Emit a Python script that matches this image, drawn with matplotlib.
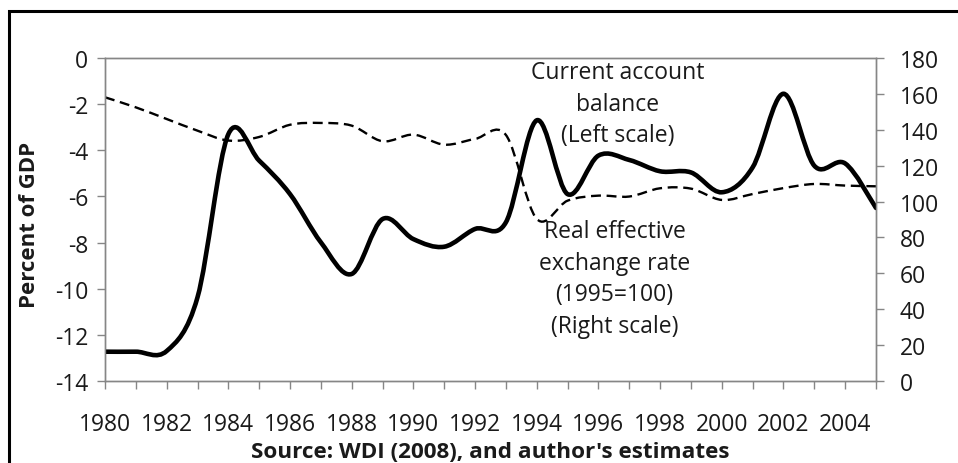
import numpy as np
import matplotlib.pyplot as plt
from matplotlib.path import Path
from matplotlib.patches import PathPatch, Rectangle

plt.rcParams['font.family'] = ['Open Sans', 'DejaVu Sans']
plt.rcParams['axes.unicode_minus'] = False

# datos
years = list(range(1980, 2006))
current_account = [-12.73, -12.73, -12.7, -10.37, -3.3, -4.45, -5.9, -7.99, -9.36,
                   -6.98, -7.85, -8.18, -7.41, -7.12, -2.7, -5.9, -4.23, -4.42,
                   -4.91, -4.96, -5.82, -4.74, -1.55, -4.67, -4.57, -6.5]
reer = [158.1, 152.5, 146.0, 139.5, 134.0, 136.0, 142.8, 143.8, 142.3, 133.6,
        137.3, 131.7, 134.9, 137.1, 90.3, 100.5, 103.3, 102.8, 107.4, 107.2,
        100.9, 104.2, 107.5, 109.8, 108.9, 108.5]
left_ticks = [0, -2, -4, -6, -8, -10, -12, -14]
right_ticks = [0, 20, 40, 60, 80, 100, 120, 140, 160, 180]

GRAY = '#868686'
TXT = '#1a1a1a'


def curva_suave(x, y):
    # curva tipo Excel (Catmull-Rom con beziers cubicos)
    x = np.asarray(x, float)
    y = np.asarray(y, float)
    n = len(x)
    verts = [(x[0], y[0])]
    codes = [Path.MOVETO]
    for i in range(n - 1):
        a = i - 1 if i > 0 else i
        d = i + 2 if i + 2 < n else i + 1
        c1 = (x[i] + (x[i + 1] - x[a]) / 6, y[i] + (y[i + 1] - y[a]) / 6)
        c2 = (x[i + 1] - (x[d] - x[i]) / 6, y[i + 1] - (y[d] - y[i]) / 6)
        verts += [c1, c2, (x[i + 1], y[i + 1])]
        codes += [Path.CURVE4] * 3
    return Path(verts, codes)


fig = plt.figure(figsize=(9.58, 4.64), dpi=100)
ax = fig.add_axes([105 / 958, 1 - 382 / 464, 771 / 958, 323 / 464])
ax2 = ax.twinx()
ax.set_zorder(ax2.get_zorder() + 1)
ax.patch.set_visible(False)

ax2.add_patch(PathPatch(curva_suave(years, reer), fill=False, ec='black',
                        lw=1.7, linestyle=(0, (4.2, 2.4))))
ax.add_patch(PathPatch(curva_suave(years, current_account), fill=False,
                       ec='black', lw=3.3, joinstyle='round', capstyle='round'))

ax.set_xlim(1980, 2005)
ax.set_ylim(-14, 0)
ax2.set_ylim(0, 180)
ax.set_yticks(left_ticks)
ax2.set_yticks(right_ticks)
ax.set_xticks(years)
ax.set_xticklabels([str(y) if y % 2 == 0 else '' for y in years])

for a in (ax, ax2):
    for s in a.spines.values():
        s.set_color(GRAY)
        s.set_linewidth(1.0)
ax.tick_params(axis='y', direction='out', length=6, width=1, color=GRAY,
               labelsize=16.5, labelcolor=TXT, pad=6)
ax2.tick_params(axis='y', direction='out', length=6, width=1, color=GRAY,
                labelsize=16.5, labelcolor=TXT, pad=11)
ax.tick_params(axis='x', direction='out', length=6, width=1, color=GRAY,
               labelsize=16.5, labelcolor=TXT, pad=16)

ax.set_ylabel('Percent of GDP', fontsize=16, fontweight='bold', color=TXT)
ax.yaxis.set_label_coords(-0.084, 0.486)
ax.set_xlabel("Source: WDI (2008), and author's estimates", fontsize=16.2,
              fontweight='bold', color=TXT, va='center')
ax.xaxis.set_label_coords(0.5, -0.217)

ax.text(0.665, 0.859, 'Current account\nbalance\n(Left scale)', transform=ax.transAxes,
        ha='center', va='center', fontsize=16.5, color=TXT, linespacing=1.42)
ax.text(0.661, 0.317, 'Real effective\nexchange rate\n(1995=100)\n(Right scale)',
        transform=ax.transAxes, ha='center', va='center', fontsize=16.5, color=TXT,
        linespacing=1.42)

# marco del grafico (solo se ven los bordes izquierdo y superior)
fig.add_artist(Rectangle((9 / 958, -0.2), 1.5, 1.2 - 12 / 464, transform=fig.transFigure,
                         fill=False, ec='black', lw=2.2))

fig.savefig('out.png', dpi=100)
